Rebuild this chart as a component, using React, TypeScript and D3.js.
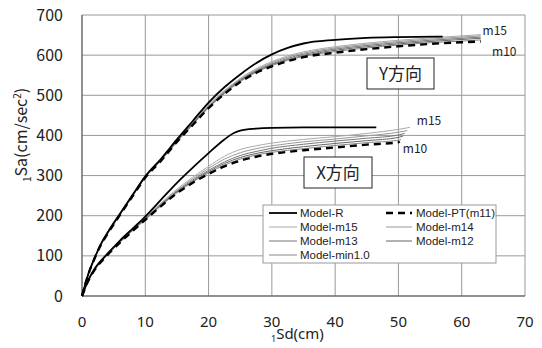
import * as d3 from 'd3'

// Y direction (upper group)
const yDirSd = [0, 1, 2, 3, 4, 6, 8, 10, 12.5, 15, 17.5, 20, 22.5, 25, 27.5, 30, 32.5, 35, 40, 45, 50, 55, 60, 63]
const yDirSdR = [0, 1, 2, 3, 4, 6, 8, 10, 12.5, 15, 17.5, 20, 22.5, 25, 27.5, 30, 32.5, 35, 40, 45, 50, 57]
const yDirR = [0, 55, 95, 130, 157, 205, 252, 298, 342, 390, 436, 482, 520, 552, 580, 602, 618, 629, 638, 643, 645, 646]
const yDirPT = [0, 54, 94, 128, 154, 202, 249, 295, 337, 384, 426, 468, 503, 533, 556, 572, 585, 595, 606, 615, 622, 628, 632, 634]
const yDirM15 = [0, 55, 95, 129, 156, 204, 251, 297, 340, 388, 432, 476, 512, 542, 566, 584, 598, 608, 621, 630, 637, 643, 648, 651]
const yDirM14 = [0, 55, 95, 129, 156, 204, 251, 297, 339, 387, 431, 474, 510, 540, 563, 581, 595, 605, 618, 627, 634, 640, 645, 648]
const yDirM13 = [0, 55, 95, 129, 155, 203, 250, 296, 339, 386, 430, 472, 508, 538, 561, 578, 592, 602, 615, 624, 631, 637, 642, 645]
const yDirM12 = [0, 55, 95, 128, 155, 203, 250, 296, 338, 385, 428, 470, 506, 536, 559, 576, 589, 599, 612, 621, 628, 634, 639, 642]
const yDirMin10 = [0, 54, 94, 128, 154, 202, 249, 295, 337, 384, 427, 469, 504, 534, 557, 574, 587, 597, 609, 618, 625, 631, 635, 638]

// X direction (lower group)
const xDirSd = [0, 1, 2, 3, 4, 6, 8, 10, 12.5, 15, 17.5, 20, 22.5, 25, 27.5, 30, 35, 40, 45, 50]
const xDirSdR = [0, 1, 2, 3, 4, 6, 8, 10, 12.5, 15, 17.5, 20, 22.5, 24, 25, 27.5, 30, 35, 40, 46.5]
const xDirR = [0, 40, 68, 88, 105, 138, 168, 198, 240, 282, 320, 356, 390, 406, 412, 417, 419, 420, 420, 420]
const xDirPT = [0, 38, 65, 85, 102, 133, 162, 190, 224, 256, 282, 304, 323, 337, 347, 354, 363, 370, 377, 383]
const xDirM15 = [0, 39, 67, 87, 104, 136, 166, 195, 232, 266, 296, 323, 348, 365, 374, 381, 390, 397, 405, 415]
const xDirM14 = [0, 39, 66, 87, 103, 135, 165, 193, 230, 263, 292, 318, 341, 357, 367, 374, 384, 391, 399, 408]
const xDirM13 = [0, 39, 66, 86, 103, 135, 164, 192, 228, 261, 289, 313, 334, 350, 360, 368, 378, 386, 393, 401]
const xDirM12 = [0, 38, 66, 86, 103, 134, 163, 191, 227, 259, 286, 310, 330, 345, 355, 362, 372, 380, 387, 395]
const xDirMin10 = [0, 38, 65, 85, 102, 134, 163, 190, 225, 257, 284, 307, 326, 341, 351, 358, 367, 375, 382, 388]
// last points, order: m15, m14, m13, m12, min1.0, PT
const xDirEndSd = [51.8, 51.4, 51.0, 50.7, 50.4, 50.2]
const xDirEndSa = [420, 412, 405, 398, 390, 385]

const xTicks = [0, 10, 20, 30, 40, 50, 60, 70]
const yTicks = [0, 100, 200, 300, 400, 500, 600, 700]

const FONT = '"Noto Sans CJK JP", "Noto Sans", sans-serif'
const LATIN_FONT = '"Noto Sans", sans-serif'
const LEG_FONT = '"Liberation Sans", Arial, sans-serif'

const styles = {
  R: { stroke: '#000', width: 1.8, dash: null },
  PT: { stroke: '#000', width: 2.4, dash: '7,5' },
  m15: { stroke: '#aaa', width: 1, dash: null },
  m14: { stroke: '#999', width: 1, dash: null },
  m13: { stroke: '#777', width: 1, dash: null },
  m12: { stroke: '#666', width: 1, dash: null },
  min10: { stroke: '#888', width: 1, dash: null },
}

const App = () => {
  const x = d3.scaleLinear().domain([0, 70]).range([82, 525])
  const y = d3.scaleLinear().domain([0, 700]).range([296, 15])
  const line = d3
    .line<[number, number]>()
    .x(d => x(d[0]))
    .y(d => y(d[1]))
    .curve(d3.curveMonotoneX)

  const zip = (sd: number[], sa: number[]) => sd.slice(0, sa.length).map((v, i) => [v, sa[i]] as [number, number])

  const xEnd = (i: number) => [[xDirEndSd[i], xDirEndSa[i]] as [number, number]]

  const series = [
    { key: 'm15', pts: zip(yDirSd, yDirM15) },
    { key: 'm14', pts: zip(yDirSd, yDirM14) },
    { key: 'm13', pts: zip(yDirSd, yDirM13) },
    { key: 'm12', pts: zip(yDirSd, yDirM12) },
    { key: 'min10', pts: zip(yDirSd, yDirMin10) },
    { key: 'PT', pts: zip(yDirSd, yDirPT) },
    { key: 'R', pts: zip(yDirSdR, yDirR) },
    { key: 'm15', pts: zip(xDirSd, xDirM15).concat(xEnd(0)) },
    { key: 'm14', pts: zip(xDirSd, xDirM14).concat(xEnd(1)) },
    { key: 'm13', pts: zip(xDirSd, xDirM13).concat(xEnd(2)) },
    { key: 'm12', pts: zip(xDirSd, xDirM12).concat(xEnd(3)) },
    { key: 'min10', pts: zip(xDirSd, xDirMin10).concat(xEnd(4)) },
    { key: 'PT', pts: zip(xDirSd, xDirPT).concat(xEnd(5)) },
    { key: 'R', pts: zip(xDirSdR, xDirR) },
  ]

  const legend = [
    { key: 'R', label: 'Model-R', col: 0, row: 0 },
    { key: 'PT', label: 'Model-PT(m11)', col: 1, row: 0 },
    { key: 'm15', label: 'Model-m15', col: 0, row: 1 },
    { key: 'm14', label: 'Model-m14', col: 1, row: 1 },
    { key: 'm13', label: 'Model-m13', col: 0, row: 2 },
    { key: 'm12', label: 'Model-m12', col: 1, row: 2 },
    { key: 'min10', label: 'Model-min1.0', col: 0, row: 3 },
  ]
  const legCols = [
    { x1: 269, x2: 297, tx: 300 },
    { x1: 386, x2: 412, tx: 416 },
  ]

  return (
    <svg width={542} height={348} style={{ position: 'absolute', left: 0, top: 0, background: '#fff' }} fontFamily={FONT}>
      {/* grid */}
      {xTicks.map(t => (
        <line key={'gx' + t} x1={x(t)} x2={x(t)} y1={y(0)} y2={y(700)} stroke="#999" strokeWidth={1} />
      ))}
      {yTicks.map(t => (
        <line key={'gy' + t} x1={x(0)} x2={x(70)} y1={y(t)} y2={y(t)} stroke="#999" strokeWidth={1} />
      ))}
      <line x1={x(0)} x2={x(70)} y1={y(0)} y2={y(0)} stroke="#555" />
      <line x1={x(0)} x2={x(0)} y1={y(0)} y2={y(700)} stroke="#555" />

      {/* tick labels */}
      {yTicks.map(t => (
        <text key={'ty' + t} x={63} y={y(t)} dy="0.35em" textAnchor="end" fontSize={16} fill="#222">
          {t}
        </text>
      ))}
      {xTicks.map(t => (
        <text key={'tx' + t} x={x(t)} y={327} textAnchor="middle" fontSize={15} fontFamily={LATIN_FONT} fill="#222">
          {t}
        </text>
      ))}

      {/* axis titles */}
      <text x={271} y={339} fontSize={15} fontFamily={LATIN_FONT} fill="#222">
        <tspan fontSize={9} dy={3}>1</tspan>
        <tspan dy={-3}>Sd(cm)</tspan>
      </text>
      <text transform="translate(27,182) rotate(-90)" fontSize={16} fill="#222">
        <tspan fontSize={10} dy={4}>1</tspan>
        <tspan dy={-4}>Sa(cm/sec</tspan>
        <tspan fontSize={10} dy={-6}>2</tspan>
        <tspan dy={6}>)</tspan>
      </text>

      {/* curves */}
      {series.map((s, i) => {
        const st = styles[s.key as keyof typeof styles]
        return (
          <path
            key={'s' + i}
            d={line(s.pts) || ''}
            fill="none"
            stroke={st.stroke}
            strokeWidth={st.width}
            strokeDasharray={st.dash || undefined}
          />
        )
      })}

      {/* annotations */}
      <text x={x(63.3)} y={y(650)} fontSize={12} fill="#222">m15</text>
      <text x={x(64.8)} y={y(597)} fontSize={12} fill="#222">m10</text>
      <text x={x(52.9)} y={y(427)} fontSize={12} fill="#222">m15</text>
      <text x={x(50.7)} y={y(357)} fontSize={12} fill="#222">m10</text>

      <rect x={367} y={58} width={67} height={31} fill="#fff" stroke="#222" strokeWidth={1} />
      <text x={400.5} y={74} dy="0.35em" textAnchor="middle" fontSize={17} fill="#222">Y方向</text>
      <rect x={304} y={157} width={68} height={31} fill="#fff" stroke="#222" strokeWidth={1} />
      <text x={338} y={173} dy="0.35em" textAnchor="middle" fontSize={17} fill="#222">X方向</text>

      {/* legend */}
      <rect x={263} y={205} width={233} height={58} fill="#fff" stroke="#999" strokeWidth={1} />
      {legend.map(l => {
        const st = styles[l.key as keyof typeof styles]
        const c = legCols[l.col]
        const ly = 213 + l.row * 14
        return (
          <g key={'l' + l.key}>
            <line
              x1={c.x1}
              x2={c.x2}
              y1={ly}
              y2={ly}
              stroke={st.stroke}
              strokeWidth={st.width}
              strokeDasharray={st.dash || undefined}
            />
            <text x={c.tx} y={ly} dy="0.35em" fontSize={11.5} fontFamily={LEG_FONT} fill="#222">
              {l.label}
            </text>
          </g>
        )
      })}
    </svg>
  )
}

export default App
